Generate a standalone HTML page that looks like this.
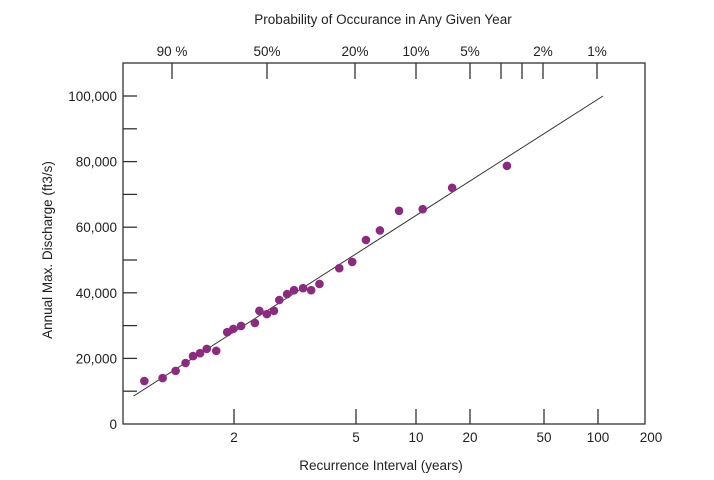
<!DOCTYPE html>
<html><head><meta charset="utf-8"><style>
body{margin:0;background:#fff;}
svg{display:block;font-family:"Liberation Sans",sans-serif;}
</style></head><body>
<svg id="chart" width="714" height="480" viewBox="0 0 714 480">
<text x="383" y="24" font-size="13.5" text-anchor="middle" fill="#222">Probability of Occurance in Any Given Year</text>
<text x="381" y="470" font-size="13.5" text-anchor="middle" fill="#222">Recurrence Interval (years)</text>
<text x="0" y="0" font-size="13.5" text-anchor="middle" fill="#222" transform="translate(52,250) rotate(-90)">Annual Max. Discharge (ft3/s)</text>
<rect x="123" y="63" width="522" height="361" fill="none" stroke="#333" stroke-width="1.3"/>
<g id="g"></g>
</svg>
<script>
const xTickValues=[2,5,10,20,50,100,200];
const xTickPx=[234,356,416,470,544,598,645];
const xTickLabels=["2","5","10","20","50","100","200"];
const topTickLabels=["90 %","50%","20%","10%","5%","","","2%","1%"];
const topTickPx=[172,267,355,416,470,501,522,543,597];
const yTicks=[0,20000,40000,60000,80000,100000];
const yTickLabels=["0","20,000","40,000","60,000","80,000","100,000"];
const recurrence=[1.02,1.17,1.29,1.39,1.47,1.55,1.63,1.75,1.90,1.99,2.11,2.34,2.42,2.56,2.70,2.81,2.98,3.14,3.36,3.57,3.80,4.41,4.86,5.61,6.59,8.22,10.9,15.9,31.6];
const discharge=[13100,14000,16200,18600,20700,21600,22900,22300,28000,29000,29900,30800,34500,33500,34500,37800,39600,40800,41400,40800,42700,47500,49400,56100,59000,65000,65500,72000,78700];
const fitT=[0.94,107.6];
const fitQ=[8500,100000];

function xScale(T){
  const l=Math.log10(T);
  const L=xTickValues.map(Math.log10);
  let i=0;
  if(l<=L[0]) i=0; else { i=L.length-2; for(let k=0;k<L.length-1;k++){ if(l<=L[k+1]){i=k;break;} } }
  return xTickPx[i]+(l-L[i])/(L[i+1]-L[i])*(xTickPx[i+1]-xTickPx[i]);
}
function yScale(v){return 424-v*0.00328;}
const NS="http://www.w3.org/2000/svg";
const g=document.getElementById('g');
function mk(t,a){const e=document.createElementNS(NS,t);for(const k in a)e.setAttribute(k,a[k]);g.appendChild(e);return e;}

xTickValues.forEach((v,i)=>{
  if(i<xTickValues.length-1){
    const t=mk('line',{x1:xTickPx[i],x2:xTickPx[i],y1:424,y2:409,stroke:'#333','stroke-width':1.3});
    
    
  }
  const l=mk('text',{x:xTickPx[i]+(i==6?6:0),y:442,'font-size':13.5,'text-anchor':'middle',fill:'#222'});
  l.textContent=xTickLabels[i];
  
  
});
topTickPx.forEach((p,i)=>{
  const t=mk('line',{x1:p,x2:p,y1:63,y2:79,stroke:'#333','stroke-width':1.3});
  
  
  if(topTickLabels[i]){
    const l=mk('text',{x:p,y:56,'font-size':13.5,'text-anchor':'middle',fill:'#222'});
    l.textContent=topTickLabels[i];
    
    
  }
});
for(let v=10000;v<=100000;v+=10000){
  const t=mk('line',{x1:123,x2:137,y1:yScale(v),y2:yScale(v),stroke:'#333','stroke-width':1.3});
  
  
}
yTicks.forEach((v,i)=>{
  const l=mk('text',{x:117,y:yScale(v)+5,'font-size':13.5,'text-anchor':'end',fill:'#222'});
  l.textContent=yTickLabels[i];
  
  
});
const fl=mk('line',{x1:xScale(fitT[0]),y1:yScale(fitQ[0]),x2:xScale(fitT[1]),y2:yScale(fitQ[1]),stroke:'#333','stroke-width':1});


recurrence.forEach((T,i)=>{
  const c=mk('circle',{cx:xScale(T),cy:yScale(discharge[i]),r:4.3,fill:'#8b2a7e'});
  
  
});
</script>
</body></html>
